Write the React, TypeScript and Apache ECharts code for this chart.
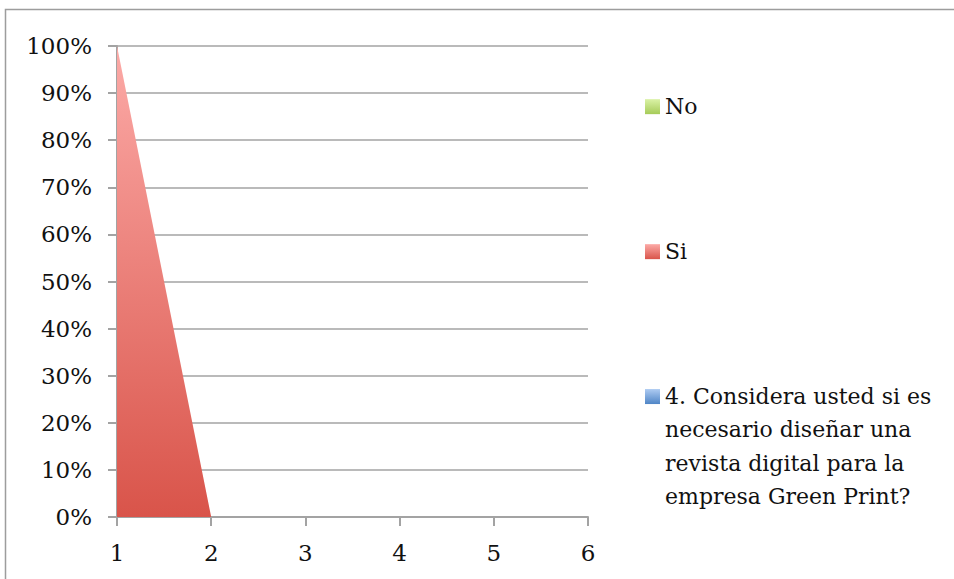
import React, { useEffect, useRef } from "react";
import * as echarts from "echarts";

// Category positions along the x axis
const categories = ["1", "2", "3", "4", "5", "6"];

// Share of answers per category (percent, stacked to 100%)
const considerPct = [0, 0, 0, 0, 0, 0];
const siPct = [100, 0, 0, 0, 0, 0];
const noPct = [0, 0, 0, 0, 0, 0];

const seriesNames = {
  consider: "4. Considera usted si es\nnecesario diseñar una\nrevista digital para la\nempresa Green Print?",
  si: "Si",
  no: "No",
};

const FONT = "DejaVu Serif";
const GRID_COLOR = "#a3a3a3";
const LINE_H = 33.3;

function vGrad(top: string, bottom: string) {
  return new echarts.graphic.LinearGradient(0, 0, 0, 1, [
    { offset: 0, color: top },
    { offset: 1, color: bottom },
  ]);
}

export default function App() {
  const ref = useRef<HTMLDivElement>(null);

  useEffect(() => {
    if (!ref.current) return;
    const chart = echarts.init(ref.current, null, { renderer: "svg" });

    const redFill = vGrad("#fcaaa7", "#d9544a");
    const greenFill = vGrad("#daf2a6", "#a6cb58");
    const blueFill = vGrad("#aecbf2", "#4f85c6");

    const areaSeries = (name: string, data: number[], fill: any) => ({
      name,
      type: "line",
      stack: "total",
      data,
      symbol: "none",
      lineStyle: { width: 0 },
      itemStyle: { color: fill },
      areaStyle: { color: fill, opacity: 1 },
    });

    const legendText = {
      fontFamily: FONT,
      fontSize: 22,
      color: "#111",
      lineHeight: LINE_H,
    };

    const legendBase = {
      orient: "vertical",
      left: 645,
      padding: 0,
      itemWidth: 15,
      itemHeight: 15,
      icon: "rect",
      textStyle: legendText,
    };

    chart.setOption({
      animation: false,
      backgroundColor: "#ffffff",
      grid: { left: 117, right: 366, top: 46, bottom: 62 },
      xAxis: {
        type: "category",
        data: categories,
        boundaryGap: false,
        axisLine: { lineStyle: { color: GRID_COLOR, width: 2 } },
        axisTick: { show: true, length: 9, lineStyle: { color: GRID_COLOR, width: 2 } },
        axisLabel: { margin: 24, fontFamily: FONT, fontSize: 23, color: "#111" },
        splitLine: { show: false },
      },
      yAxis: {
        type: "value",
        min: 0,
        max: 100,
        interval: 10,
        axisLine: { show: true, lineStyle: { color: GRID_COLOR, width: 2 } },
        axisTick: { show: true, length: 9, lineStyle: { color: GRID_COLOR, width: 2 } },
        axisLabel: {
          margin: 25,
          formatter: "{value}%",
          fontFamily: FONT,
          fontSize: 23,
          color: "#111",
        },
        splitLine: { show: true, lineStyle: { color: GRID_COLOR, width: 1.5 } },
      },
      legend: [
        { ...legendBase, data: [seriesNames.no], top: 90 },
        { ...legendBase, data: [seriesNames.si], top: 235 },
        {
          ...legendBase,
          data: [seriesNames.consider],
          top: 280,
          // keep the marker beside the first line of the wrapped label
          formatter: (name: string) => "\n\n\n" + name,
        },
      ],
      graphic: [
        {
          type: "polyline",
          shape: { points: [[5.5, 579], [5.5, 9.5], [954, 9.5]] },
          style: { stroke: "#9d9d9d", lineWidth: 1.5, fill: "none" },
          silent: true,
        },
      ],
      series: [
        areaSeries(seriesNames.consider, considerPct, blueFill),
        areaSeries(seriesNames.si, siPct, redFill),
        areaSeries(seriesNames.no, noPct, greenFill),
      ],
    });

    return () => chart.dispose();
  }, []);

  return (
    <div
      ref={ref}
      style={{ position: "fixed", left: 0, top: 0, width: 954, height: 579, background: "#fff" }}
    />
  );
}
